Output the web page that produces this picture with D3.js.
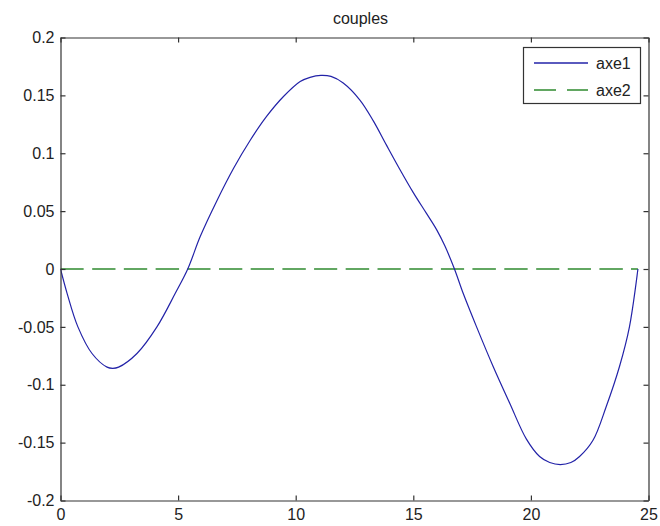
<!DOCTYPE html>
<html>
<head>
<meta charset="utf-8">
<script src="https://cdn.jsdelivr.net/npm/d3@7"></script>
<style>
  html, body { margin: 0; padding: 0; background: #fff; }
  svg text { font-family: "Liberation Sans", Arial, Helvetica, sans-serif; font-size: 16px; fill: #222; }
</style>
</head>
<body>
<svg id="chart" width="660" height="526"></svg>
<script>
// Sample positions along the span and the two couple curves
const xValues = [0, 0.28, 0.74, 1.34, 1.98, 2.22, 2.47, 3.25, 4.10, 4.88, 5.41,
  5.94, 6.65, 7.36, 8.06, 8.77, 9.48, 10.19, 10.61, 11.07, 11.5, 12.02, 12.73, 13.30,
  13.86, 14.43, 15.0, 15.56, 15.99, 16.34, 16.75, 17.12, 17.69, 18.39, 19.10, 19.81,
  20.37, 20.8, 21.25, 21.7, 22.07, 22.64, 23.20, 23.77, 24.19, 24.55];
const axe1 = [0, -0.021, -0.050, -0.073, -0.0848, -0.0858, -0.0848, -0.073,
  -0.050, -0.021, 0, 0.028, 0.059, 0.087, 0.111, 0.132, 0.149, 0.162, 0.1656, 0.1673,
  0.1664, 0.1607, 0.146, 0.128, 0.107, 0.086, 0.066, 0.048, 0.034, 0.020, 0, -0.021,
  -0.050, -0.084, -0.116, -0.147, -0.162, -0.1672, -0.169, -0.1672, -0.162, -0.148,
  -0.119, -0.084, -0.050, 0];
const axe2 = xValues.map(() => 0);

const seriesNames = ["axe1", "axe2"];
const xTicks = [0, 5, 10, 15, 20, 25];
const yTicks = [-0.2, -0.15, -0.1, -0.05, 0, 0.05, 0.1, 0.15, 0.2];
const title = "couples";

const svg = d3.select("#chart");
const plotLeft = 60.5, plotRight = 648.5, plotTop = 37.5, plotBottom = 500.5;

const x = d3.scaleLinear().domain([0, 25]).range([plotLeft, plotRight]);
const y = d3.scaleLinear().domain([-0.2, 0.2]).range([plotBottom, plotTop]);

const axisColor = "#333";
const blue = "#2323a8";
const green = "#2f8a2f";

// white plot area
svg.append("rect")
  .attr("x", plotLeft).attr("y", plotTop)
  .attr("width", plotRight - plotLeft).attr("height", plotBottom - plotTop)
  .attr("fill", "#fff");

svg.append("clipPath").attr("id", "plotclip")
  .append("rect").attr("x", plotLeft).attr("y", plotTop - 2)
  .attr("width", plotRight - plotLeft).attr("height", plotBottom - plotTop + 4);

const plot = svg.append("g").attr("clip-path", "url(#plotclip)");

const line = d3.line()
  .x((d, i) => x(xValues[i]))
  .y(d => y(d))
  .curve(d3.curveCatmullRom.alpha(0.5));

plot.append("path")
  .datum(axe2)
  .attr("d", line)
  .attr("fill", "none")
  .attr("stroke", green)
  .attr("stroke-width", 1.3)
  .attr("stroke-dasharray", "23.3,8.4");

plot.append("path")
  .datum(axe1)
  .attr("d", line)
  .attr("fill", "none")
  .attr("stroke", blue)
  .attr("stroke-width", 1.2);

// axes with inward ticks on all four sides
function styleAxis(g) {
  g.selectAll(".domain").attr("stroke", axisColor).attr("stroke-width", 1.2);
  g.selectAll(".tick line").attr("stroke", axisColor).attr("stroke-width", 1.2);
  g.selectAll("text").attr("fill", "#222")
    .style("font-family", "'Liberation Sans', Arial, sans-serif").style("font-size", "16px");
}

svg.append("g")
  .attr("transform", `translate(0,${plotBottom})`)
  .call(d3.axisBottom(x).tickValues(xTicks).tickSizeInner(-5).tickSizeOuter(0).tickPadding(8)
    .tickFormat(d3.format("d")))
  .call(styleAxis);

svg.append("g")
  .attr("transform", `translate(0,${plotTop})`)
  .call(d3.axisTop(x).tickValues(xTicks).tickSizeInner(-5).tickSizeOuter(0).tickFormat(""))
  .call(styleAxis);

svg.append("g")
  .attr("transform", `translate(${plotLeft},0)`)
  .call(d3.axisLeft(y).tickValues(yTicks).tickSizeInner(-5).tickSizeOuter(0).tickPadding(6)
    .tickFormat(d => d === 0 ? "0" : String(+d.toFixed(2))))
  .call(styleAxis);

svg.append("g")
  .attr("transform", `translate(${plotRight},0)`)
  .call(d3.axisRight(y).tickValues(yTicks).tickSizeInner(-5).tickSizeOuter(0).tickFormat(""))
  .call(styleAxis);

// title
svg.append("text")
  .attr("x", (plotLeft + plotRight) / 2 + 6)
  .attr("y", 24)
  .attr("text-anchor", "middle")
  .text(title);

// legend
const legend = svg.append("g");
legend.append("rect")
  .attr("x", 523.5).attr("y", 47.5)
  .attr("width", 117).attr("height", 56)
  .attr("fill", "#fff")
  .attr("stroke", axisColor)
  .attr("stroke-width", 1.2);

const legendStyles = [
  { color: blue, dash: null },
  { color: green, dash: "22,11" }
];
seriesNames.forEach((name, i) => {
  const cy = 63 + i * 27;
  legend.append("line")
    .attr("x1", 534).attr("x2", 588)
    .attr("y1", cy).attr("y2", cy)
    .attr("stroke", legendStyles[i].color)
    .attr("stroke-width", 1.3)
    .attr("stroke-dasharray", legendStyles[i].dash);
  legend.append("text")
    .attr("x", 596)
    .attr("y", cy + 6)
    .text(name);
});
</script>
</body>
</html>
